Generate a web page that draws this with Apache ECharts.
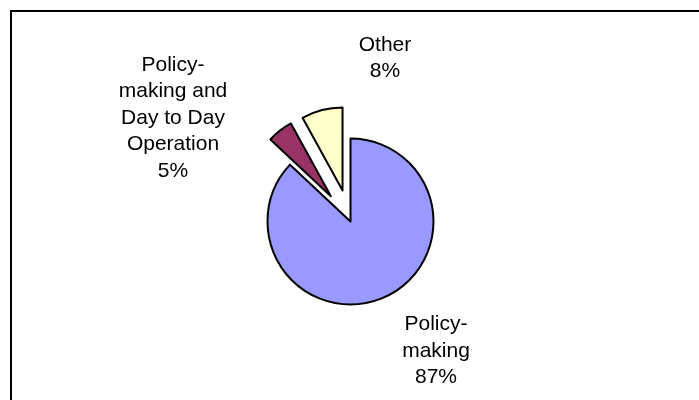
<!DOCTYPE html>
<html>
<head>
<meta charset="utf-8">
<script src="https://cdn.jsdelivr.net/npm/echarts@6/dist/echarts.min.js"></script>
<style>
html,body{margin:0;padding:0;background:#fff;}
#chart{width:699px;height:400px;}
</style>
</head>
<body>
<div id="chart"></div>
<script>
// Data
const categories = ['Policy-making', 'Policy-making and Day to Day Operation', 'Other'];
const labelTexts = ['Policy-\nmaking', 'Policy-\nmaking and\nDay to Day\nOperation', 'Other'];
const values = [87, 5, 8];
const exploded = [false, true, true];

// Styles / layout (not data)
const colors = ['#9999FF', '#993366', '#FFFFCC'];
const labelAnchors = [[436, 351], [173, 118], [385, 58]];

const chart = echarts.init(document.getElementById('chart'), null, {renderer: 'canvas'});

const total = values.reduce((a, b) => a + b, 0);
const pieData = categories.map((c, i) => ({
  name: c,
  value: values[i],
  selected: exploded[i],
  itemStyle: {color: colors[i]}
}));
const labelData = categories.map((c, i) => ({name: c, value: values[i]}));

const common = {
  type: 'pie',
  center: [350.5, 221.5],
  radius: 83,
  startAngle: 90,
  clockwise: true,
  avoidLabelOverlap: false,
  emphasis: {disabled: true}
};

chart.setOption({
  animation: false,
  backgroundColor: '#ffffff',
  graphic: [{
    type: 'rect',
    shape: {x: 11, y: 11, width: 720, height: 420},
    style: {fill: 'none', stroke: '#000', lineWidth: 2},
    silent: true
  }],
  series: [
    Object.assign({}, common, {
      name: 'slices',
      selectedMode: 'multiple',
      selectedOffset: 32,
      itemStyle: {borderColor: '#000', borderWidth: 2},
      select: {itemStyle: {borderColor: '#000', borderWidth: 2}},
      label: {show: false},
      labelLine: {show: false},
      data: pieData
    }),
    Object.assign({}, common, {
      name: 'labels',
      silent: true,
      selectedMode: false,
      itemStyle: {color: 'rgba(0,0,0,0)', borderWidth: 0},
      label: {
        show: true,
        position: 'outside',
        fontFamily: 'Liberation Sans, Arial, sans-serif',
        fontSize: 21,
        lineHeight: 26.5,
        color: '#000',
        formatter: function (p) {
          return labelTexts[p.dataIndex] + '\n' + Math.round(p.value / total * 100) + '%';
        }
      },
      labelLine: {show: false},
      labelLayout: function (p) {
        const a = labelAnchors[p.dataIndex];
        return {x: a[0], y: a[1], align: 'center', verticalAlign: 'middle'};
      },
      data: labelData
    })
  ]
});
</script>
</body>
</html>
